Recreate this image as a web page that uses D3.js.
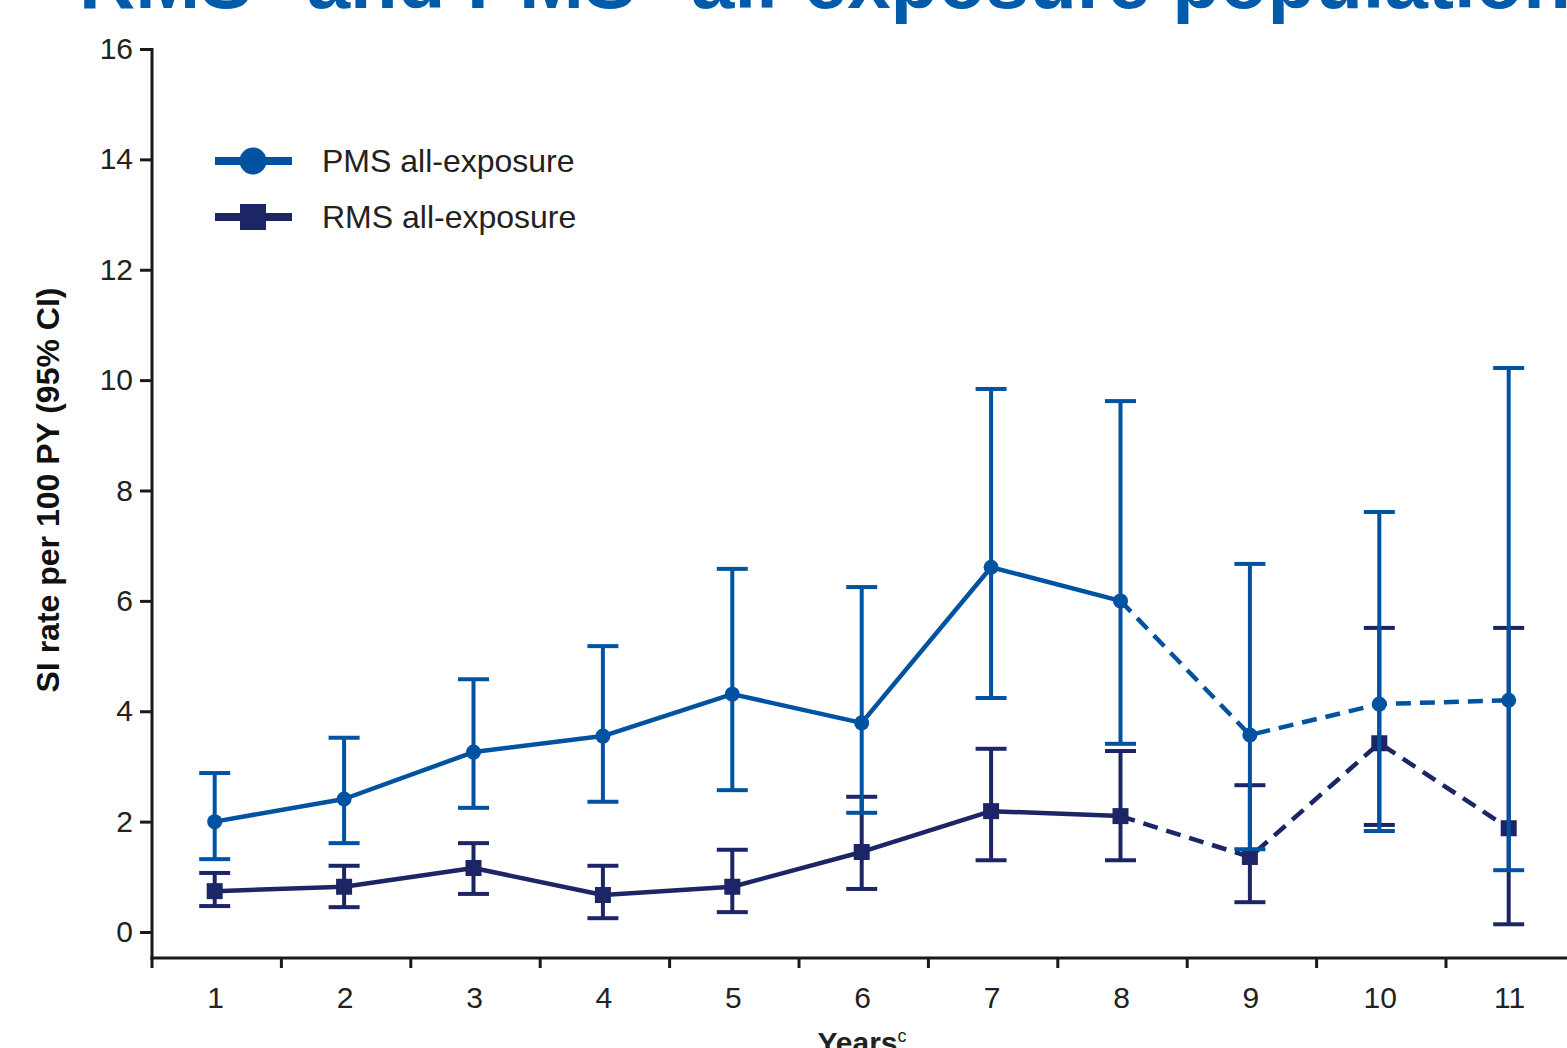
<!DOCTYPE html>
<html>

<head>
  <meta charset="utf-8">
  <title>SI rate per 100 PY</title>
  <style>
    body { margin: 0; background: #fff; }
    svg { display: block; font-family: "Liberation Sans", Arial, sans-serif; }
  </style>
</head>

<body>
  <script src="https://d3js.org/d3.v7.min.js" charset="utf-8"></script>
  <script type="text/javascript">
    var years = [1, 2, 3, 4, 5, 6, 7, 8, 9, 10, 11];
    var yTicks = [0, 2, 4, 6, 8, 10, 12, 14, 16];

    var pmsRate = [2.0, 2.41, 3.26, 3.55, 4.31, 3.79, 6.61, 6.0, 3.57, 4.13, 4.20];
    var pmsLow = [1.32, 1.61, 2.25, 2.36, 2.57, 2.16, 4.24, 3.41, 1.50, 1.83, 1.12];
    var pmsHigh = [2.88, 3.52, 4.58, 5.18, 6.58, 6.25, 9.84, 9.62, 6.67, 7.61, 10.22];

    var rmsRate = [0.74, 0.82, 1.16, 0.67, 0.82, 1.45, 2.19, 2.10, 1.36, 3.42, 1.88];
    var rmsLow = [0.47, 0.45, 0.69, 0.25, 0.36, 0.78, 1.30, 1.30, 0.54, 1.94, 0.14];
    var rmsHigh = [1.07, 1.20, 1.61, 1.20, 1.49, 2.45, 3.32, 3.28, 2.66, 5.51, 5.51];

    // last year of the solid part; after it the line is dashed
    var solidUntil = 8;

    var svgW = 1567;
    var svgH = 1048;
    var pmsColor = '#0152a1';
    var rmsColor = '#1c2565';
    var axisColor = '#1a1a1a';

    var svg = d3.select('body').append('svg')
      .attr('width', svgW).attr('height', svgH);

    // title, mostly cut off at the top (as in the original slide)
    var title = svg.append('text')
      .attr('x', 79).attr('y', 8)
      .attr('fill', '#005bab')
      .attr('font-size', '78px').attr('font-weight', 'bold');
    title.append('tspan').text('RMS');
    title.append('tspan').attr('dy', -32).attr('font-size', '48px').text('a');
    title.append('tspan').attr('dy', 32).attr('dx', 6).text(' and PMS');
    title.append('tspan').attr('dy', -32).attr('font-size', '48px').text('b');
    title.append('tspan').attr('dy', 32).attr('dx', 4).text(' all-exposure populations');

    var x = d3.scaleBand().domain(years).range([152, 152 + 11 * 129.4]);
    var y = d3.scaleLinear().domain([0, 16]).range([932, 49]);
    var axisY = 958;

    // y axis
    var yAxis = svg.append('g')
      .attr('transform', 'translate(152,0)')
      .call(d3.axisLeft(y).tickValues(yTicks).tickSize(12).tickPadding(7).tickSizeOuter(0));
    yAxis.select('.domain').remove();
    yAxis.selectAll('.tick line').attr('stroke', axisColor).attr('stroke-width', 3);
    yAxis.selectAll('.tick text').attr('fill', '#222').attr('font-size', '30px')
      .attr('font-family', '"Liberation Sans", Arial, sans-serif');
    svg.append('line')
      .attr('x1', 152).attr('x2', 152).attr('y1', y(16) - 1).attr('y2', axisY + 1.5)
      .attr('stroke', axisColor).attr('stroke-width', 3);

    // x axis: ticks sit between the years
    svg.append('line')
      .attr('x1', 150.5).attr('x2', svgW).attr('y1', axisY).attr('y2', axisY)
      .attr('stroke', axisColor).attr('stroke-width', 3);
    svg.selectAll('.xtick').data(years).enter().append('line')
      .attr('class', 'xtick')
      .attr('x1', function(d) { return x(d); })
      .attr('x2', function(d) { return x(d); })
      .attr('y1', axisY).attr('y2', axisY + 10)
      .attr('stroke', axisColor).attr('stroke-width', 3);
    svg.selectAll('.xlabel').data(years).enter().append('text')
      .attr('class', 'xlabel')
      .attr('x', function(d) { return x(d) + x.bandwidth() / 2 - 1; })
      .attr('y', 1008)
      .attr('text-anchor', 'middle')
      .attr('fill', '#222').attr('font-size', '30px')
      .text(function(d) { return d; });

    var xTitle = svg.append('text')
      .attr('x', 862).attr('y', 1053)
      .attr('text-anchor', 'middle')
      .attr('fill', '#222').attr('font-size', '30px').attr('font-weight', 'bold');
    xTitle.append('tspan').text('Years');
    xTitle.append('tspan').attr('dy', -11).attr('font-size', '18px').attr('font-weight', 'normal').text('c');

    svg.append('text')
      .attr('transform', 'translate(59,490) rotate(-90)')
      .attr('text-anchor', 'middle')
      .attr('fill', '#111').attr('font-size', '32px').attr('font-weight', 'bold')
      .text('SI rate per 100 PY (95% CI)');

    function cx(d) { return x(d) + x.bandwidth() / 2 - 2; }

    function drawSeries(rate, low, high, color, marker) {
      var rows = years.map(function(d, i) {
        return { year: d, rate: rate[i], low: low[i], high: high[i] };
      });
      var g = svg.append('g');
      var line = d3.line().x(function(d) { return cx(d.year); }).y(function(d) { return y(d.rate); });

      g.append('path')
        .datum(rows.filter(function(d) { return d.year <= solidUntil; }))
        .attr('d', line).attr('fill', 'none')
        .attr('stroke', color).attr('stroke-width', 4.5).attr('stroke-linejoin', 'round');
      g.append('path')
        .datum(rows.filter(function(d) { return d.year >= solidUntil; }))
        .attr('d', line).attr('fill', 'none')
        .attr('stroke', color).attr('stroke-width', 4.5).attr('stroke-dasharray', '15,9');

      // error bars
      var bars = g.selectAll('.bar').data(rows).enter().append('g').attr('class', 'bar');
      bars.append('line')
        .attr('x1', function(d) { return cx(d.year); })
        .attr('x2', function(d) { return cx(d.year); })
        .attr('y1', function(d) { return y(d.high); })
        .attr('y2', function(d) { return y(d.low); })
        .attr('stroke', color).attr('stroke-width', 4);
      ['high', 'low'].forEach(function(k) {
        bars.append('line')
          .attr('x1', function(d) { return cx(d.year) - 15.5; })
          .attr('x2', function(d) { return cx(d.year) + 15.5; })
          .attr('y1', function(d) { return y(d[k]); })
          .attr('y2', function(d) { return y(d[k]); })
          .attr('stroke', color).attr('stroke-width', 4);
      });

      // markers
      if (marker === 'circle') {
        g.selectAll('.pt').data(rows).enter().append('circle')
          .attr('cx', function(d) { return cx(d.year); })
          .attr('cy', function(d) { return y(d.rate); })
          .attr('r', 7.5).attr('fill', color);
      } else {
        g.selectAll('.pt').data(rows).enter().append('rect')
          .attr('x', function(d) { return cx(d.year) - 8; })
          .attr('y', function(d) { return y(d.rate) - 8; })
          .attr('width', 16).attr('height', 16).attr('fill', color);
      }
    }

    drawSeries(rmsRate, rmsLow, rmsHigh, rmsColor, 'square');
    drawSeries(pmsRate, pmsLow, pmsHigh, pmsColor, 'circle');

    // legend
    var legend = [
      { label: 'PMS all-exposure', color: pmsColor, marker: 'circle', y: 161 },
      { label: 'RMS all-exposure', color: rmsColor, marker: 'square', y: 217 }
    ];
    var lg = svg.selectAll('.legend').data(legend).enter().append('g').attr('class', 'legend');
    lg.append('line')
      .attr('x1', 215).attr('x2', 292)
      .attr('y1', function(d) { return d.y; }).attr('y2', function(d) { return d.y; })
      .attr('stroke', function(d) { return d.color; }).attr('stroke-width', 8);
    lg.filter(function(d) { return d.marker === 'circle'; }).append('circle')
      .attr('cx', 253).attr('cy', function(d) { return d.y; }).attr('r', 13.5)
      .attr('fill', function(d) { return d.color; });
    lg.filter(function(d) { return d.marker === 'square'; }).append('rect')
      .attr('x', 240).attr('y', function(d) { return d.y - 13; })
      .attr('width', 26).attr('height', 26)
      .attr('fill', function(d) { return d.color; });
    lg.append('text')
      .attr('x', 322).attr('y', function(d) { return d.y + 11; })
      .attr('fill', '#222').attr('font-size', '32px')
      .text(function(d) { return d.label; });
  </script>
</body>

</html>
